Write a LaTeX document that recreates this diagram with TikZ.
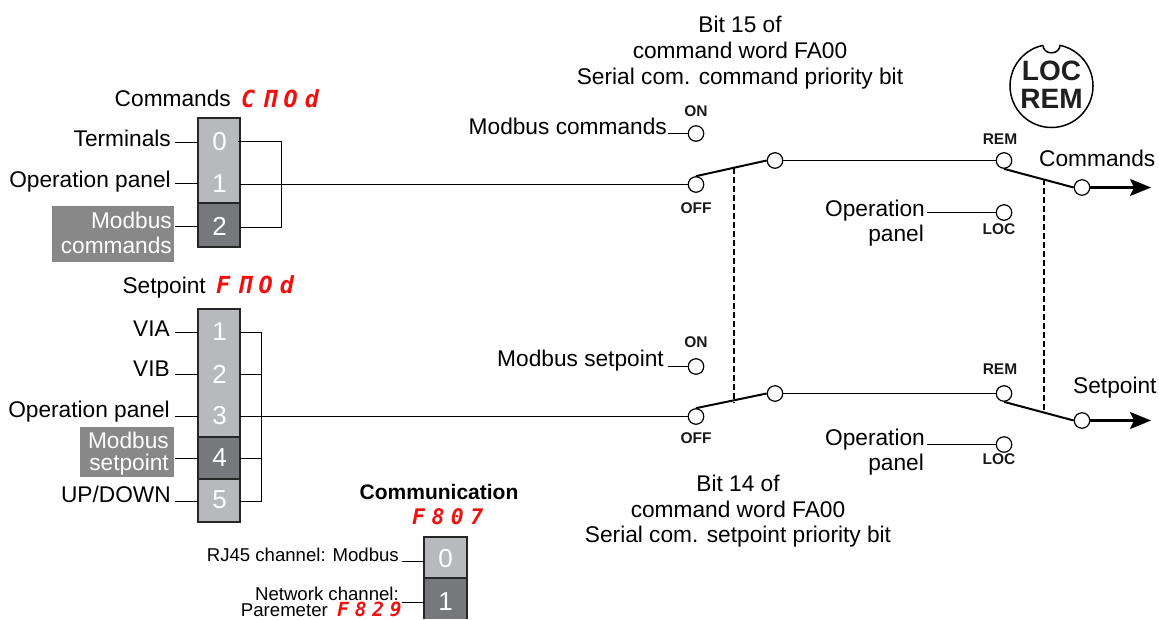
\documentclass[tikz,border=0pt]{standalone}
\usepackage{fontspec}
\setmainfont{Liberation Sans}
\newfontfamily\segfont[LetterSpace=30,BoldItalicFont={DejaVu Sans Mono Bold Oblique}]{DejaVu Sans Mono}
\usetikzlibrary{arrows.meta}
\definecolor{cellgray}{HTML}{B8B9BC}
\definecolor{celldark}{HTML}{77787C}
\definecolor{tagbox}{HTML}{888888}
\definecolor{segred}{HTML}{F01010}
\tikzset{
  txt/.style={inner sep=0pt,font=\fontsize{22.7}{26}\selectfont,text=black},
  re/.style={txt,anchor=base east},
  mi/.style={txt,anchor=base},
  le/.style={txt,anchor=base west},
  small/.style={font=\fontsize{18.6}{22}\selectfont},
  tagtxt/.style={re,text=white},
  tiny/.style={mi,font=\bfseries\fontsize{15.5}{18}\selectfont,text=black!90},
  seg/.style={inner sep=0pt,anchor=base west,text=segred,font=\segfont\bfseries\itshape\fontsize{23.5}{26}\selectfont},
  segsm/.style={seg,font=\segfont\bfseries\itshape\fontsize{21.5}{24}\selectfont},
  segxs/.style={seg,font=\segfont\bfseries\itshape\fontsize{19.5}{22}\selectfont},
  digit/.style={inner sep=0pt,text=white,font=\fontsize{26}{30}\selectfont},
  cell/.style={fill=cellgray},
  cellframe/.style={draw=black!85,line width=1.6pt},
  darkcell/.style={fill=celldark,draw=black!85,line width=2pt},
  tag/.style={fill=tagbox},
  wire/.style={draw=black,line width=1.6pt},
  arm/.style={draw=black,line width=2pt},
  link/.style={draw=black,line width=2pt,dash pattern=on 6pt off 3pt},
  pin/.style={circle,draw=black,fill=white,line width=1.2pt,minimum size=15.5pt,inner sep=0pt},
}
\begin{document}
\begin{tikzpicture}[x=1pt,y=-1pt]
\useasboundingbox (0,0) rectangle (1159,619);
% grey tags
\fill[tag] (52,206) rectangle (174,262);
\fill[tag] (80,427) rectangle (174,477);
% selector 1
\fill[cell] (198,118) rectangle (240,203);
\draw[cellframe] (198,118) rectangle (240,247);
\filldraw[darkcell] (198,203) rectangle (240,247);
% selector 2
\fill[cell] (198,309) rectangle (240,522);
\draw[cellframe] (198,309) rectangle (240,522);
\filldraw[darkcell] (198,437) rectangle (240,479);
% selector 3
\fill[cell] (424,537) rectangle (467,578);
\fill[celldark] (424,578) rectangle (467,619);
\draw[cellframe] (424,619) -- (424,537) -- (467,537) -- (467,619);
\draw[cellframe,line width=2pt] (424,578) -- (467,578);
% selector digits
\node[digit] (c0) at (219.5,142) {0};
\node[digit] (c1) at (219.5,184) {1};
\node[digit] (c2) at (219.5,226) {2};
\node[digit] (s1) at (219.5,332) {1};
\node[digit] (s2) at (219.5,374) {2};
\node[digit] (s3) at (219.5,416) {3};
\node[digit] (s4) at (219.5,458) {4};
\node[digit] (s5) at (219.5,500) {5};
\node[digit] (n0) at (445.5,559) {0};
\node[digit] (n1) at (445.5,602) {1};
% coordinates of selector rows
\coordinate (cl0) at (175,142.5); \coordinate (cle0) at (198,142.5);
\coordinate (cl1) at (175,183.5); \coordinate (cle1) at (198,183.5);
\coordinate (cl2) at (175,226.5); \coordinate (cle2) at (198,226.5);
\coordinate (cr0) at (238,141.5); \coordinate (cr1) at (240,184.5); \coordinate (cr2) at (240,227.5);
\coordinate (cbus) at (281.5,141.5); \coordinate (cbusb) at (281.5,227.5);
\coordinate (sbus) at (261.5,332.5); \coordinate (sbusb) at (261.5,501.5);
% titles and labels
\node[re] (t1) at (231,106) {Commands};
\node[seg] (t1s) at (241,107) {CΠOd};
\node[re] (t2) at (206,293) {Setpoint};
\node[seg] (t2s) at (216,293) {FΠOd};
\node[re] (lt) at (171,146) {Terminals};
\node[re] (lo) at (171,187) {Operation panel};
\node[tagtxt] (lm1) at (172,228) {Modbus};
\node[tagtxt] (lm2) at (172,253) {commands};
\node[re] (lvia) at (170,336) {VIA};
\node[re] (lvib) at (170,376) {VIB};
\node[re] (lop) at (170,417) {Operation panel};
\node[tagtxt] (lms1) at (169,448) {Modbus};
\node[tagtxt] (lms2) at (169,470) {setpoint};
\node[re] (lud) at (171,502) {UP/DOWN};
\node[mi,font=\bfseries\fontsize{21}{24}\selectfont] (comm) at (439,499) {Communication};
\node[segsm] (comms) at (412,524) {F807};
\node[re,small] (rj) at (399,561) {RJ45 channel: Modbus};
\node[re,small] (net) at (399,600) {Network channel:};
\node[re,small] (par) at (328,616) {Paremeter};
\node[segxs] (pars) at (337,616.5) {F829};
% row stubs
\foreach \a/\b in {cl0/cle0,cl1/cle1,cl2/cle2} \draw[wire] (\a) -- (\b);
\coordinate (sl1) at (175,332.5); \coordinate (sle1) at (198,332.5);
\coordinate (sl2) at (175,374.5); \coordinate (sle2) at (198,374.5);
\coordinate (sl3) at (175,416.5); \coordinate (sle3) at (198,416.5);
\coordinate (sl4) at (175,458.5); \coordinate (sle4) at (198,458.5);
\coordinate (sl5) at (175,501.5); \coordinate (sle5) at (198,501.5);
\foreach \i in {1,...,5} \draw[wire] (sl\i) -- (sle\i);
\coordinate (nl0) at (402,561.5); \coordinate (nle0) at (424,561.5);
\coordinate (nl1) at (402,602.5); \coordinate (nle1) at (424,602.5);
\draw[wire] (nl0) -- (nle0);
\draw[wire] (nl1) -- (nle1);
% pins
\node[pin] (onA) at (696,133.5) {};
\node[pin] (offA) at (696,184.5) {};
\node[pin] (midA) at (775,160.5) {};
\node[pin] (remA) at (1004,160.5) {};
\node[pin] (locA) at (1004,212.5) {};
\node[pin] (outA) at (1082,187.5) {};
\node[pin] (onB) at (696,366.5) {};
\node[pin] (offB) at (696,416.5) {};
\node[pin] (midB) at (775,393.5) {};
\node[pin] (remB) at (1004,393.5) {};
\node[pin] (locB) at (1004,444.5) {};
\node[pin] (outB) at (1082,420.5) {};
% bus wires
\draw[wire] (cr0) -- (cbus) -- (cbusb) -- (cr2);
\draw[wire] (cr1) -- (offA);
\draw[wire] (240,332.5) -- (sbus) -- (sbusb) -- (240,501.5);
\draw[wire] (240,374.5) -- (261.5,374.5);
\draw[wire] (240,458.5) -- (261.5,458.5);
\draw[wire] (240,416.5) -- (offB);
% switches
\draw[wire] (midA) -- (remA);
\draw[wire] (midB) -- (remB);
\coordinate (onAl) at (668,133.5); \coordinate (onBl) at (668,366.5);
\coordinate (locAl) at (927,212.5); \coordinate (locBl) at (927,444.5);
\draw[wire] (onAl) -- (onA);
\draw[wire] (onBl) -- (onB);
\draw[wire] (locAl) -- (locA);
\draw[wire] (locBl) -- (locB);
\draw[arm] (offA.north) -- (midA.west);
\draw[arm] (offB.north) -- (midB.west);
\draw[arm] (remA.south) -- (outA.west);
\draw[arm] (remB.south) -- (outB.west);
\coordinate (tipA) at (1151,187.5); \coordinate (tipB) at (1151,420.5);
\draw[wire,line width=2.2pt,-{Stealth[length=21pt,width=17pt,inset=4pt]}] (outA) -- (tipA);
\draw[wire,line width=2.2pt,-{Stealth[length=21pt,width=17pt,inset=4pt]}] (outB) -- (tipB);
% mechanical links
\coordinate (la1) at (733.5,167.5); \coordinate (la2) at (733.5,403);
\coordinate (lb1) at (1043.5,179); \coordinate (lb2) at (1043.5,411);
\draw[link] (la1) -- (la2);
\draw[link] (lb1) -- (lb2);
% switch labels
\node[tiny] (onAt) at (696,116) {ON};
\node[tiny] (offAt) at (696,213) {OFF};
\node[tiny] (remAt) at (1000,144) {REM};
\node[tiny] (locAt) at (999,234) {LOC};
\node[tiny] (onBt) at (696,347) {ON};
\node[tiny] (offBt) at (696,443) {OFF};
\node[tiny] (remBt) at (1000,374) {REM};
\node[tiny] (locBt) at (999,464) {LOC};
\node[re] (mc) at (667,134) {Modbus commands};
\node[re] (ms) at (664,366) {Modbus setpoint};
\node[re] (opa1) at (925,216) {Operation};
\node[re] (opa2) at (924,241) {panel};
\node[re] (opb1) at (925,445) {Operation};
\node[re] (opb2) at (924,470) {panel};
\node[le] (outAt) at (1039,166) {Commands};
\node[le] (outBt) at (1073,393) {Setpoint};
% captions
\node[mi] (b15a) at (740,32) {Bit 15 of};
\node[mi] (b15b) at (740,58) {command word FA00};
\node[mi] (b15c) at (740,84) {Serial com. command priority bit};
\node[mi] (b14a) at (738,491) {Bit 14 of};
\node[mi] (b14b) at (738,517) {command word FA00};
\node[mi] (b14c) at (738,542) {Serial com. setpoint priority bit};
% knob
\begin{scope}[shift={(1051.5,86)},x=1pt,y=1pt]
\draw[line width=1.5pt,fill=white] (101.8:41.5) arc[start angle=101.8,end angle=438.2,radius=41.5]
  arc[start angle=0,end angle=-180,x radius=8.5,y radius=7.5];
\end{scope}
\node[mi,font=\bfseries\fontsize{28}{30}\selectfont,text=black!88] (kl) at (1051.5,80) {LOC};
\node[mi,font=\bfseries\fontsize{28}{30}\selectfont,text=black!88] (kr) at (1051.5,108) {REM};
\end{tikzpicture}
\end{document}
